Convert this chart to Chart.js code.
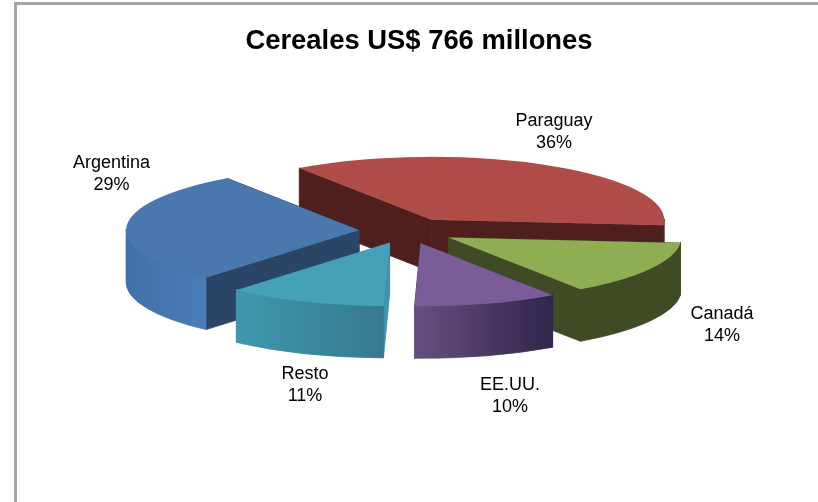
<!DOCTYPE html>
<html>
<head>
<meta charset="utf-8">
<style>
  html, body { margin: 0; background: #fff; }
  canvas { display: block; }
</style>
<script src="https://cdn.jsdelivr.net/npm/chart.js@4"></script>
</head>
<body>
<canvas id="chart1" width="818" height="502"></canvas>
<script>
const categories = ['Paraguay', 'Canadá', 'EE.UU.', 'Resto', 'Argentina'];
const shares = [36, 14, 10, 11, 29];

const topColors = ['#b04c48', '#8fae52', '#7a5d98', '#45a0ba', '#4878ae'];
const cutColors = ['#4e1f1d', '#3f4b24', '#4a3a62', '#3f93ac', '#2b4566'];
const wallFrom = ['#4e1f1d', '#3f4b24', '#67507f', '#3f97ae', '#3f70a9'];
const wallTo = ['#4e1f1d', '#3f4b24', '#30254a', '#367a8f', '#4a7db8'];

const drawOrder = [0, 4, 1, 3, 2];
// label centres, same order as categories
const labelSpots = [[554, 132], [722, 325], [510, 396], [305, 385], [111.5, 174]];

const tilt = 0.27;
const depth = 52;
const explode = 48;
const shiftX = -12;

function sliceCentre(arc) {
    const mid = (arc.startAngle + arc.endAngle) / 2;
    return {
        x: arc.x + shiftX + Math.cos(mid) * explode,
        y: arc.y + Math.sin(mid) * explode * tilt
    };
}

function paint(ctx, style) {
    // thin stroke of the same colour closes the seams between faces
    ctx.fillStyle = style;
    ctx.strokeStyle = style;
    ctx.lineWidth = 0.8;
    ctx.fill();
    ctx.stroke();
}

function drawCut(ctx, c, r, angle, color) {
    const ex = c.x + Math.cos(angle) * r;
    const ey = c.y + Math.sin(angle) * r * tilt;
    ctx.beginPath();
    ctx.moveTo(c.x, c.y);
    ctx.lineTo(ex, ey);
    ctx.lineTo(ex, ey + depth);
    ctx.lineTo(c.x, c.y + depth);
    ctx.closePath();
    paint(ctx, color);
}

function drawWall(ctx, c, r, arc, i) {
    // only the part of the rim that faces the viewer
    for (let k = -1; k <= 1; k++) {
        const a0 = Math.max(arc.startAngle, k * 2 * Math.PI);
        const a1 = Math.min(arc.endAngle, k * 2 * Math.PI + Math.PI);
        if (a1 <= a0) continue;
        const x0 = c.x + Math.cos(a0) * r;
        const x1 = c.x + Math.cos(a1) * r;
        const grad = ctx.createLinearGradient(Math.min(x0, x1), 0, Math.max(x0, x1), 0);
        grad.addColorStop(0, wallFrom[i]);
        grad.addColorStop(1, wallTo[i]);
        ctx.beginPath();
        ctx.ellipse(c.x, c.y - 1, r, r * tilt, 0, a0, a1);
        ctx.ellipse(c.x, c.y + depth, r, r * tilt, 0, a1, a0, true);
        ctx.closePath();
        paint(ctx, grad);
    }
}

const pie3d = {
    id: 'pie3d',
    beforeDraw(chart) {
        const ctx = chart.ctx;
        ctx.save();
        ctx.fillStyle = '#a6a6a6';
        ctx.fillRect(14, 2, 804, 3);
        ctx.fillRect(14, 2, 3, 500);
        ctx.restore();
    },
    beforeDatasetsDraw(chart) {
        const ctx = chart.ctx;
        const arcs = chart.getDatasetMeta(0).data;
        drawOrder.forEach(i => {
            const arc = arcs[i];
            const c = sliceCentre(arc);
            const r = arc.outerRadius;
            drawCut(ctx, c, r, arc.startAngle, cutColors[i]);
            drawCut(ctx, c, r, arc.endAngle, cutColors[i]);
            drawWall(ctx, c, r, arc, i);
            ctx.save();
            ctx.translate(c.x, c.y);
            ctx.scale(1, tilt);
            ctx.translate(-arc.x, -arc.y);
            arc.draw(ctx);
            ctx.restore();
        });
        return false;
    },
    afterDraw(chart) {
        const ctx = chart.ctx;
        ctx.save();
        ctx.font = '18px "Liberation Sans", Arial, sans-serif';
        ctx.fillStyle = '#000';
        ctx.textAlign = 'center';
        ctx.textBaseline = 'middle';
        categories.forEach((name, i) => {
            const [x, y] = labelSpots[i];
            ctx.fillText(name, x, y - 11);
            ctx.fillText(shares[i] + '%', x, y + 11);
        });
        ctx.restore();
    }
};

const chart1 = new Chart(document.getElementById('chart1').getContext('2d'), {
    type: 'pie',
    plugins: [pie3d],
    data: {
        labels: categories,
        datasets: [{
            data: shares,
            backgroundColor: topColors,
            borderWidth: 0
        }]
    },
    options: {
        responsive: false,
        animation: false,
        radius: 233,
        rotation: -34.5,
        layout: { padding: { left: 20, bottom: 100 } },
        plugins: {
            legend: { display: false },
            tooltip: { enabled: false },
            title: {
                display: true,
                text: 'Cereales US$ 766 millones',
                color: '#000',
                font: { family: '"Liberation Sans", Arial, sans-serif', size: 27.4, weight: 'bold' },
                padding: { top: 25, bottom: 2 }
            }
        }
    }
});
</script>
</body>
</html>
